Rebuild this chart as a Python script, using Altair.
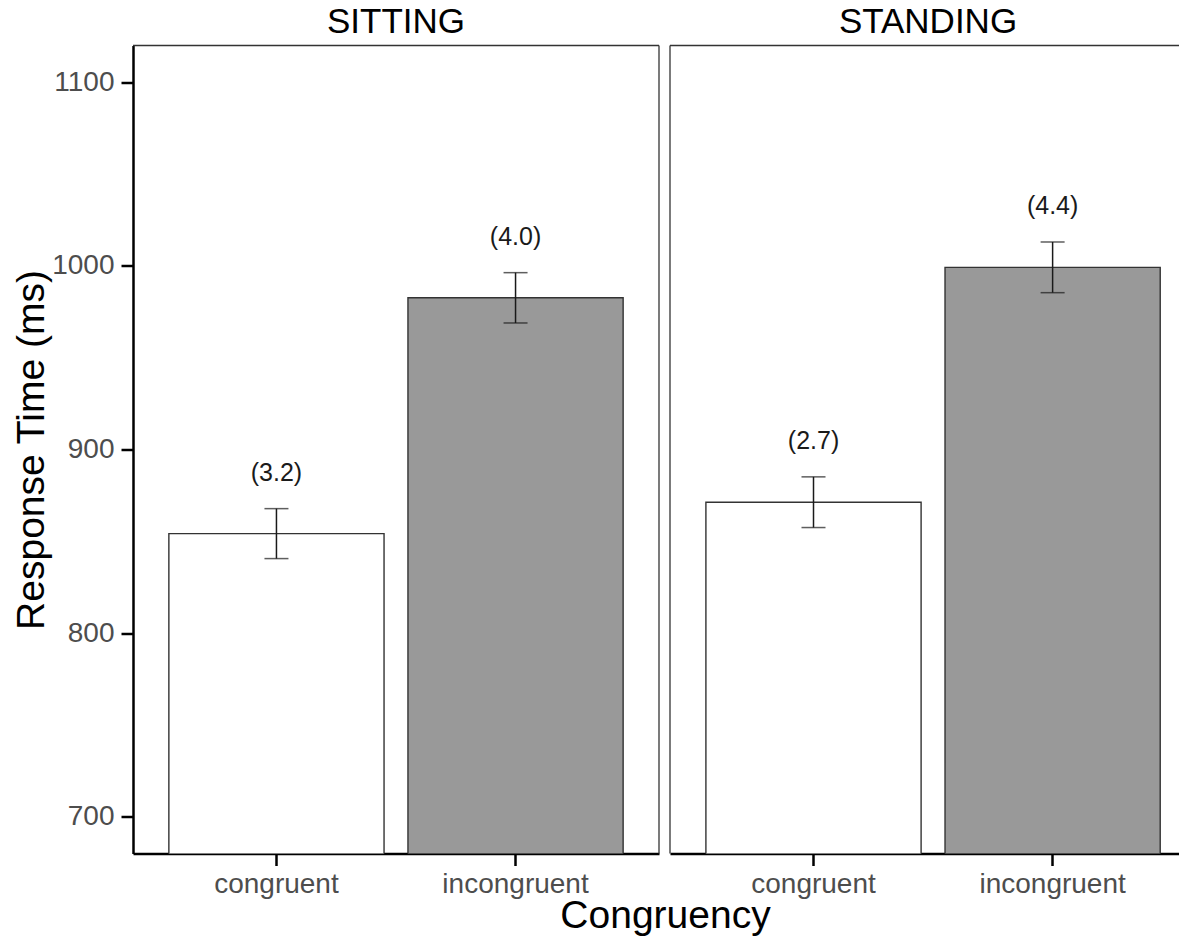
import altair as alt
import pandas as pd

# ---- data ----
posture = ["SITTING", "SITTING", "STANDING", "STANDING"]
congruency = ["congruent", "incongruent", "congruent", "incongruent"]
mean_rt = [854.2, 982.6, 871.3, 999.2]
se_rt = [13.6, 13.7, 13.8, 13.8]
error_label = ["(3.2)", "(4.0)", "(2.7)", "(4.4)"]
categories = ["congruent", "incongruent"]
fill_colors = ["#ffffff", "#999999"]
y_ticks = [700, 800, 900, 1000, 1100]
y_domain = [680, 1120]

df = pd.DataFrame({
    "posture": posture,
    "congruency": congruency,
    "mean": mean_rt,
    "se": se_rt,
    "label": error_label,
})
df["lower"] = df["mean"] - df["se"]
df["upper"] = df["mean"] + df["se"]

FONT = "Liberation Sans"
H = 808
BORDER = "#333333"
INK = "#1a1a1a"


def panel(name, width, pad_outer, align, first):
    data = df[df["posture"] == name]
    xscale = alt.Scale(domain=categories, paddingInner=0.1,
                       paddingOuter=pad_outer, align=align)
    yscale = alt.Scale(domain=y_domain, nice=False, zero=False)

    if first:
        x_axis = alt.Axis(title="Congruency", labelAngle=0, labelPadding=5,
                          titleX=532, titleY=74, titleBaseline="alphabetic",
                          titleAnchor="middle")
        y_axis = alt.Axis(values=y_ticks, format="d",
                          title="Response Time (ms)",
                          labelPadding=7, titlePadding=0)
    else:
        x_axis = alt.Axis(title=None, labelAngle=0, labelPadding=5)
        y_axis = None

    x = alt.X("congruency:N", scale=xscale, axis=x_axis)
    base = alt.Chart(data)

    bars = base.mark_bar(clip=True, stroke=BORDER, strokeWidth=1.4).encode(
        x=x,
        y=alt.Y("mean:Q", scale=yscale, axis=y_axis),
        fill=alt.Fill("congruency:N",
                      scale=alt.Scale(domain=categories, range=fill_colors),
                      legend=None),
    )
    stem = base.mark_rule(color=INK, strokeWidth=1.5).encode(
        x=x,
        y=alt.Y("lower:Q", scale=yscale, axis=y_axis),
        y2="upper:Q",
    )
    cap_hi = base.mark_tick(orient="horizontal", size=24, thickness=1.5,
                            color=INK).encode(
        x=x, y=alt.Y("upper:Q", scale=yscale, axis=y_axis))
    cap_lo = base.mark_tick(orient="horizontal", size=24, thickness=1.5,
                            color=INK).encode(
        x=x, y=alt.Y("lower:Q", scale=yscale, axis=y_axis))
    txt = base.mark_text(dy=-36, fontSize=25, font=FONT, color=INK,
                         baseline="middle").encode(
        x=x, y=alt.Y("upper:Q", scale=yscale, axis=y_axis), text="label:N")

    one = alt.Chart(data.head(1))
    top = one.mark_rule(color=BORDER, strokeWidth=1.3).encode(
        x=alt.value(0), x2=alt.value(width), y=alt.value(0))
    if first:
        side = one.mark_rule(color=BORDER, strokeWidth=1.3).encode(
            x=alt.value(width), y=alt.value(0), y2=alt.value(H))
    else:
        side = one.mark_rule(color=BORDER, strokeWidth=1.3).encode(
            x=alt.value(0), y=alt.value(0), y2=alt.value(H))

    return alt.layer(top, side, bars, stem, cap_hi, cap_lo, txt).properties(
        width=width, height=H,
        title=alt.TitleParams(name, font=FONT, fontSize=35,
                              fontWeight="normal", color="black",
                              offset=5, anchor="middle"),
    )


p1 = panel("SITTING", 526, 0.15, 0.5, True)
p2 = panel("STANDING", 516, 0.129, 0.582, False)

chart = alt.hconcat(p1, p2, spacing=11, bounds="flush").properties(
    padding={"left": 4, "top": -3.5, "right": -8, "bottom": 0}
).configure_view(stroke=None).configure_axis(
    grid=False,
    domainColor="black", domainWidth=2.5,
    tickColor="black", tickWidth=2.5, tickSize=12,
    labelFont=FONT, labelFontSize=28, labelColor="#4d4d4d",
    titleFont=FONT, titleFontSize=39, titleColor="black",
    titleFontWeight="normal",
)

chart.save("out.html", embed_options={"renderer": "svg", "actions": False})
